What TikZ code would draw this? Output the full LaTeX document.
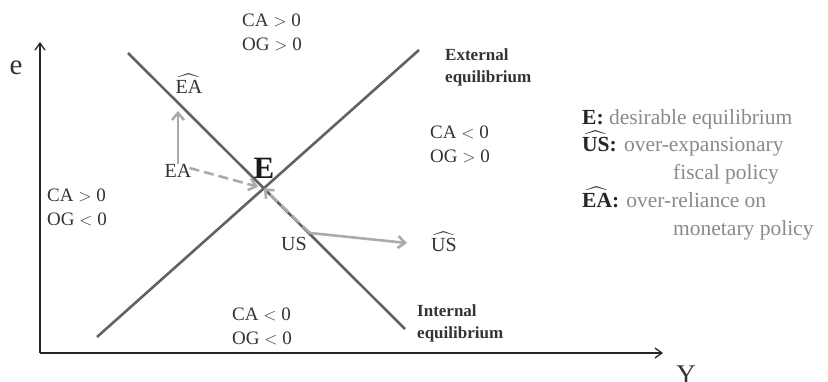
\documentclass[tikz,border=0pt]{standalone}
\usepackage{amsmath}
\usepackage{fontspec}
\setmainfont{Liberation Serif}
\usetikzlibrary{arrows.meta}
\definecolor{curvegray}{HTML}{626262}
\definecolor{shiftgray}{HTML}{ABABAB}
\definecolor{textgray}{HTML}{333333}
\definecolor{leggray}{HTML}{8A8A8A}
\tikzset{
  axis/.style={draw=black!85, line width=1.3pt, -{Straight Barb[length=7pt,width=10pt]}},
  eqline/.style={draw=curvegray, line width=2.6pt},
  shiftarrow/.style={draw=shiftgray, line width=2.6pt, -{Straight Barb[length=7pt,width=12pt]}},
  shiftdash/.style={shiftarrow, dash pattern=on 10pt off 5pt},
  region/.style={anchor=north west, align=left, inner sep=0pt, text=textgray, font=\fontsize{19}{23.5}\selectfont},
  eqname/.style={anchor=north west, align=left, inner sep=0pt, text=textgray, font=\bfseries\fontsize{17}{21.5}\selectfont},
  point/.style={inner sep=0pt, text=textgray, font=\fontsize{20}{24}\selectfont},
  legrow/.style={anchor=base west, inner sep=0pt, text=black!85, font=\fontsize{21.5}{26}\selectfont},
}
\begin{document}
\begin{tikzpicture}[x=1pt, y=-1pt, line join=round]
		\useasboundingbox (0,0) rectangle (828,382);
		% axes
		\coordinate (O) at (40,353);
		\coordinate (etip) at (40,42);
		\coordinate (Ytip) at (663,353);
		\draw[axis] (O) -- (etip);
		\draw[axis] (O) -- (Ytip);
		\node[point, font=\fontsize{29}{29}\selectfont] (e) at (16,68) {e};
		\node[point, font=\fontsize{27}{27}\selectfont, anchor=north] (Y) at (686,366) {Y};
		% equilibrium lines
		\coordinate (extA) at (97,337);
		\coordinate (extB) at (419,50);
		\coordinate (intA) at (128,53);
		\coordinate (intB) at (405,329);
		\draw[eqline] (extA) -- (extB);
		\draw[eqline] (intA) -- (intB);
		\coordinate (Eq) at (intersection of extA--extB and intA--intB);
		\node[eqname] (ext) at (445,49) {External\\equilibrium};
		\node[eqname] (int) at (417,305) {Internal\\equilibrium};
		% regions
		\node[region] (nn) at (242,14) {CA $>$ 0\\OG $>$ 0};
		\node[region] (ee) at (430,126) {CA $<$ 0\\OG $>$ 0};
		\node[region] (ww) at (47,189) {CA $>$ 0\\OG $<$ 0};
		\node[region] (ss) at (232,308) {CA $<$ 0\\OG $<$ 0};
		% points
		\node[point, text=black!90, font=\bfseries\fontsize{31}{31}\selectfont] (E) at (264,168) {E};
		\node[point] (EA) at (178,171) {EA};
		\node[point] (EAhat) at (189,84) {$\widehat{\text{EA}}$};
		\node[point] (US) at (294,244) {US};
		\node[point] (UShat) at (444,242) {$\widehat{\text{US}}$};
		\coordinate (EAtip) at (178,111);
		\coordinate (USfrom) at (310,233);
		\coordinate (UStip) at (407,243);
		\draw[shiftarrow] (EA.north) -- (EAtip);
		\draw[shiftdash, shorten >=6pt] (EA.east) ++(-2,-3) -- (Eq);
		\draw[shiftarrow] (USfrom) -- (UStip);
		\draw[shiftdash] (USfrom) -- (Eq);
		% legend
		\node[legrow] (legE) at (582,125) {\textbf{E:} \textcolor{leggray}{desirable equilibrium}};
		\node[legrow] (legUS) at (582,152) {$\boldsymbol{\widehat{\textbf{US}}}$\textbf{:} \textcolor{leggray}{over-expansionary}};
		\node[legrow, text=leggray] (legUS2) at (673,180) {fiscal policy};
		\node[legrow] (legEA) at (582,208) {$\boldsymbol{\widehat{\textbf{EA}}}$\textbf{:} \textcolor{leggray}{over-reliance on}};
		\node[legrow, text=leggray] (legEA2) at (673,236) {monetary policy};
\end{tikzpicture}
\end{document}
